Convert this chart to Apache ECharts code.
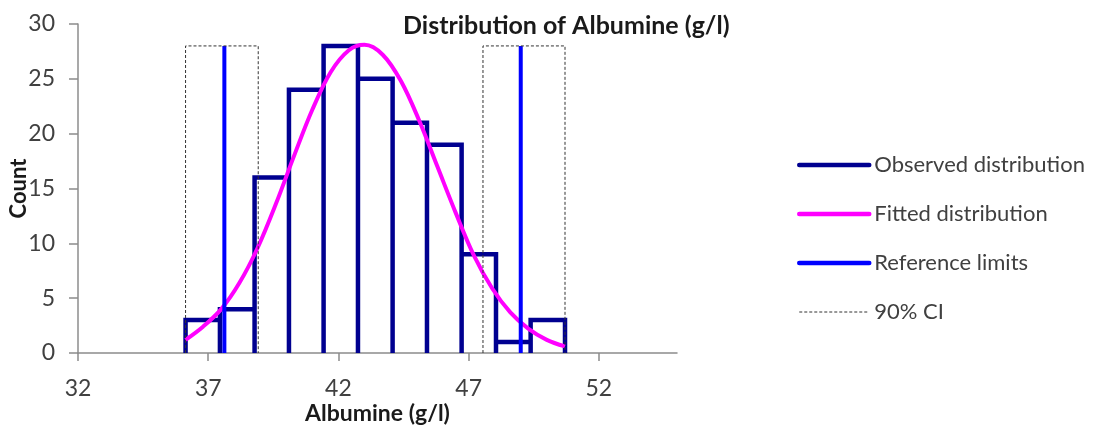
<!DOCTYPE html>
<html>
<head>
<meta charset="utf-8">
<title>Distribution of Albumine</title>
<script src="https://cdn.jsdelivr.net/npm/echarts@6/dist/echarts.min.js"></script>
<style>
    html, body { margin: 0; padding: 0; background: #fff; }
    #chart1 { width: 1113px; height: 425px; }
</style>
</head>
<body>
<div id="chart1"></div>
<script>
// histogram bins (g/l) and counts
var binEdges = [36.13, 37.45, 38.78, 40.1, 41.43, 42.75, 44.08, 45.4, 46.73, 48.05, 49.38, 50.7];
var counts = [3, 4, 16, 24, 28, 25, 21, 19, 9, 1, 3];

// fitted curve
var fitX = [36.13, 36.8, 37.5, 38.2, 38.9, 39.6, 40.3, 41.0, 41.7, 42.4, 43.0, 43.7, 44.4, 45.1, 45.8, 46.5, 47.2, 47.9, 48.6, 49.3, 50.0, 50.7];
var fitY = [1.2, 2.4, 4.0, 6.4, 9.6, 13.6, 18.0, 22.2, 25.6, 27.6, 28.1, 27.2, 24.8, 21.2, 17.0, 12.8, 8.9, 5.9, 3.7, 2.2, 1.2, 0.6];

var refLimits = [37.62, 49.0];
var ciLow = [36.13, 38.92];
var ciHigh = [47.55, 50.7];
var markTop = 28;

var xTicks = [32, 37, 42, 47, 52];

var fontName = 'Lato';

function drawChart() {
    var obsData = [];
    for (var i = 0; i < counts.length; i++) {
        obsData.push([binEdges[i], 0]);
        obsData.push([binEdges[i], counts[i]]);
        obsData.push([binEdges[i + 1], counts[i]]);
        obsData.push([binEdges[i + 1], 0]);
    }

    var fitData = [];
    for (var j = 0; j < fitX.length; j++) {
        fitData.push([fitX[j], fitY[j]]);
    }

    var refData = [];
    for (var k = 0; k < refLimits.length; k++) {
        if (k > 0) refData.push([refLimits[k], '-']);
        refData.push([refLimits[k], 0]);
        refData.push([refLimits[k], markTop]);
    }

    var ciData = [];
    var ciBoxes = [ciLow, ciHigh];
    for (var m = 0; m < ciBoxes.length; m++) {
        if (m > 0) ciData.push([ciBoxes[m][0], '-']);
        ciData.push([ciBoxes[m][0], 0]);
        ciData.push([ciBoxes[m][0], markTop]);
        ciData.push([ciBoxes[m][1], markTop]);
        ciData.push([ciBoxes[m][1], 0]);
    }

    var myChart = echarts.init(document.getElementById('chart1'));

    var axisGray = '#8c8c8c';
    var labelGray = '#404040';

    var option = {
        animation: false,
        title: {
            text: 'Distribution of Albumine (g/l)',
            left: 398,
            top: 8,
            textStyle: { fontFamily: fontName, fontSize: 25, fontWeight: 'bold', color: '#1a1a1a' }
        },
        legend: {
            orient: 'vertical',
            left: 792,
            top: 149,
            itemWidth: 70,
            itemHeight: 20,
            itemGap: 27,
            itemStyle: { opacity: 0 },
            lineStyle: { cap: 'round' },
            textStyle: { fontFamily: fontName, fontSize: 22, color: labelGray },
            data: [
                { name: 'Observed distribution', lineStyle: { width: 4.5 } },
                { name: 'Fitted distribution', lineStyle: { width: 4.5 } },
                { name: 'Reference limits', lineStyle: { width: 4.5 } },
                { name: '90% CI', lineStyle: { width: 1, cap: 'butt' } }
            ]
        },
        grid: {
            left: 78,
            right: 436,
            top: 24,
            bottom: 72,
            outerBoundsMode: 'none'
        },
        xAxis: {
            type: 'value',
            min: 32,
            max: 55,
            interval: 5,
            name: 'Albumine (g/l)',
            nameLocation: 'middle',
            nameGap: 49,
            nameMoveOverlap: false,
            nameTextStyle: { fontFamily: fontName, fontSize: 23, fontWeight: 'bold', color: '#1a1a1a' },
            splitLine: { show: false },
            axisLine: { lineStyle: { color: axisGray, width: 1.5 } },
            axisTick: { length: 8, lineStyle: { color: axisGray, width: 1.5 }, customValues: xTicks },
            axisLabel: { margin: 24, fontFamily: fontName, fontSize: 23, color: labelGray, customValues: xTicks }
        },
        yAxis: {
            type: 'value',
            min: 0,
            max: 30,
            interval: 5,
            name: 'Count',
            nameLocation: 'middle',
            nameRotate: 90,
            nameGap: 48,
            nameMoveOverlap: false,
            nameTextStyle: { fontFamily: fontName, fontSize: 22, fontWeight: 'bold', color: '#1a1a1a' },
            splitLine: { show: false },
            axisLine: { show: true, lineStyle: { color: axisGray, width: 1.5 } },
            axisTick: { show: true, length: 9, lineStyle: { color: axisGray, width: 1.5 } },
            axisLabel: { margin: 23, fontFamily: fontName, fontSize: 23, color: labelGray }
        },
        series: [
            {
                name: 'Observed distribution',
                type: 'line',
                symbol: 'none',
                color: '#000090',
                lineStyle: { width: 4.5, color: '#000090', join: 'miter' },
                data: obsData
            },
            {
                name: 'Fitted distribution',
                type: 'line',
                symbol: 'none',
                smooth: 0.35,
                color: '#ff00ff',
                lineStyle: { width: 4, color: '#ff00ff' },
                data: fitData
            },
            {
                name: 'Reference limits',
                type: 'line',
                symbol: 'none',
                color: '#0000ff',
                lineStyle: { width: 4, color: '#0000ff' },
                data: refData
            },
            {
                name: '90% CI',
                type: 'line',
                symbol: 'none',
                color: '#333333',
                lineStyle: { width: 1, color: '#333333', type: [3, 2] },
                data: ciData
            }
        ]
    };

    myChart.setOption(option);
}

drawChart();
</script>
</body>
</html>
